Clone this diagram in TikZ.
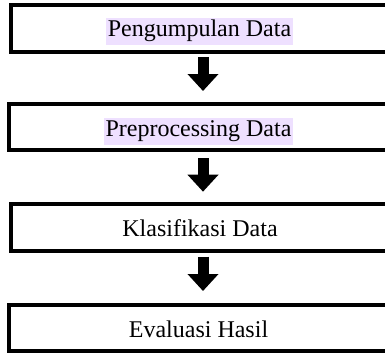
\documentclass[tikz,border=0pt]{standalone}
\usepackage{fontspec}
\setmainfont{Liberation Serif}
\usetikzlibrary{arrows.meta}
\definecolor{hl}{RGB}{238,224,255}
\tikzset{
  stepbox/.style={draw=black, line width=4pt, rectangle, outer sep=0pt, inner sep=0pt},
  lbl/.style={anchor=base, inner sep=0pt, inner xsep=2pt, text height=19pt, text depth=8pt, font=\fontsize{24}{28}\selectfont},
  bigarrow/.style={line width=11pt, -{Triangle[width=30pt,length=17pt]}}
}
\begin{document}
\begin{tikzpicture}[x=1pt,y=-1pt]
\useasboundingbox (0,0) rectangle (385,353);
\clip (0,0) rectangle (385,353);
\node[stepbox, minimum width=384pt, minimum height=46.7pt] (b1) at (203,28.65) {};
\node[stepbox, minimum width=387.4pt, minimum height=46pt] (b2) at (203,127) {};
\node[stepbox, minimum width=384pt, minimum height=47pt] (b3) at (203,227.5) {};
\node[stepbox, minimum width=387.4pt, minimum height=46pt] (b4) at (203,328) {};
\node[lbl, fill=hl] (t1) at (199.5,37) {Pengumpulan Data};
\node[lbl, fill=hl] (t2) at (198.5,136.7) {Preprocessing Data};
\node[lbl] (t3) at (200,236.7) {Klasifikasi Data};
\node[lbl] (t4) at (198.5,337.5) {Evaluasi Hasil};
\draw[bigarrow, shorten <=5pt, shorten >=13pt] (b1.south) -- (b2.north);
\draw[bigarrow, shorten <=8pt, shorten >=12.3pt] (b2.south) -- (b3.north);
\draw[bigarrow, shorten <=5.7pt, shorten >=14pt] (b3.south) -- (b4.north);
\end{tikzpicture}
\end{document}
